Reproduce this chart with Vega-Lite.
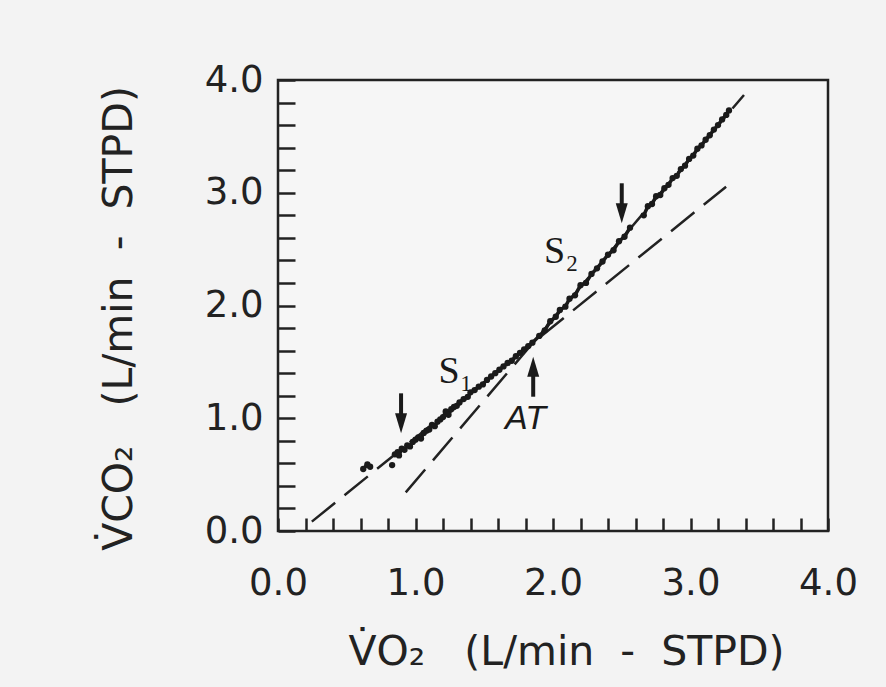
{
  "$schema": "https://vega.github.io/schema/vega-lite/v6.json",
  "width": 550,
  "height": 451,
  "autosize": {"type": "none"},
  "padding": {"left": 278, "top": 80, "right": 58, "bottom": 156},
  "background": "#f3f3f3",
  "config": {
    "view": {"stroke": "#222222", "strokeWidth": 2.5, "fill": "#f6f6f6"},
    "axis": {
      "domain": false, "grid": false, "tickColor": "#222222", "tickWidth": 2.5,
      "labelFont": "DejaVu Sans", "labelFontSize": 37, "labelColor": "#222222",
      "titleFont": "DejaVu Sans", "titleFontSize": 41, "titleFontWeight": "normal", "titleColor": "#222222",
      "labelFlush": false, "labelOverlap": false
    }
  },
  "resolve": {"scale": {"x": "shared", "y": "shared"}, "axis": {"x": "independent", "y": "independent"}},
  "layer": [
    {
      "data": {"values": [
        {"line": "S1", "vo2": 0.246, "vco2": 0.083},
        {"line": "S1", "vo2": 3.259, "vco2": 3.054},
        {"line": "S2", "vo2": 0.929, "vco2": 0.343},
        {"line": "S2", "vo2": 3.389, "vco2": 3.867}
      ]},
      "mark": {"type": "line", "strokeDash": [30, 12], "strokeWidth": 2.5, "color": "#222222"},
      "encoding": {
        "x": {"field": "vo2", "type": "quantitative", "scale": {"domain": [0, 4], "nice": false, "zero": false},
          "axis": {"orient": "bottom", "values": [0,0.2,0.4,0.6,0.8,1,1.2,1.4,1.6,1.8,2,2.2,2.4,2.6,2.8,3,3.2,3.4,3.6,3.8,4],
            "tickSize": -13, "labelPadding": 47,
            "labelExpr": "abs(datum.value - round(datum.value)) < 0.001 ? format(datum.value, '.1f') : ''",
            "title": "V\u0307O\u2082\u00a0\u00a0 (L/min\u00a0 - \u00a0STPD)", "titlePadding": 31, "titleX": 288,
            "encode": {"ticks": {"update": {"y2": {"signal": "abs(datum.value - round(datum.value)) < 0.001 ? -25 : -13"}}}}}},
        "y": {"field": "vco2", "type": "quantitative", "scale": {"domain": [0, 4], "nice": false, "zero": false},
          "axis": {"orient": "left", "values": [0,0.2,0.4,0.6,0.8,1,1.2,1.4,1.6,1.8,2,2.2,2.4,2.6,2.8,3,3.2,3.4,3.6,3.8,4],
            "tickSize": -17, "labelPadding": 32,
            "labelExpr": "abs(datum.value - round(datum.value)) < 0.001 ? format(datum.value, '.1f') : ''",
            "title": "V\u0307CO\u2082\u00a0\u00a0 (L/min\u00a0 - \u00a0STPD)", "titlePadding": 64, "titleY": 238,
            "encode": {"ticks": {"update": {"x2": {"signal": "abs(datum.value - round(datum.value)) < 0.001 ? 33 : 17"}}}}}},
        "detail": {"field": "line"}
      }
    },
    {
      "data": {"values": [
        {"seg": "a", "i": 1, "vo2": 0.62, "vco2": 0.55},
        {"seg": "a", "i": 2, "vo2": 0.65, "vco2": 0.59},
        {"seg": "a", "i": 3, "vo2": 0.67, "vco2": 0.57},
        {"seg": "b", "i": 4, "vo2": 0.83, "vco2": 0.585},
        {"seg": "c", "i": 5, "vo2": 0.85, "vco2": 0.68},
        {"seg": "c", "i": 6, "vo2": 0.87, "vco2": 0.70},
        {"seg": "c", "i": 7, "vo2": 0.88, "vco2": 0.67},
        {"seg": "c", "i": 8, "vo2": 0.90, "vco2": 0.73},
        {"seg": "c", "i": 9, "vo2": 0.92, "vco2": 0.72},
        {"seg": "c", "i": 10, "vo2": 0.94, "vco2": 0.76},
        {"seg": "c", "i": 11, "vo2": 0.96, "vco2": 0.75},
        {"seg": "c", "i": 12, "vo2": 0.98, "vco2": 0.79},
        {"seg": "c", "i": 13, "vo2": 1.00, "vco2": 0.81},
        {"seg": "c", "i": 14, "vo2": 1.02, "vco2": 0.83},
        {"seg": "c", "i": 15, "vo2": 1.04, "vco2": 0.82},
        {"seg": "c", "i": 16, "vo2": 1.06, "vco2": 0.87},
        {"seg": "c", "i": 17, "vo2": 1.08, "vco2": 0.89},
        {"seg": "c", "i": 18, "vo2": 1.10, "vco2": 0.90},
        {"seg": "c", "i": 19, "vo2": 1.12, "vco2": 0.94},
        {"seg": "c", "i": 20, "vo2": 1.14, "vco2": 0.93},
        {"seg": "c", "i": 21, "vo2": 1.16, "vco2": 0.97},
        {"seg": "c", "i": 22, "vo2": 1.18, "vco2": 0.99},
        {"seg": "c", "i": 23, "vo2": 1.20, "vco2": 1.01},
        {"seg": "c", "i": 24, "vo2": 1.22, "vco2": 1.06},
        {"seg": "c", "i": 25, "vo2": 1.24, "vco2": 1.03},
        {"seg": "c", "i": 26, "vo2": 1.26, "vco2": 1.08},
        {"seg": "c", "i": 27, "vo2": 1.28, "vco2": 1.10},
        {"seg": "c", "i": 28, "vo2": 1.30, "vco2": 1.11},
        {"seg": "c", "i": 29, "vo2": 1.32, "vco2": 1.14},
        {"seg": "c", "i": 30, "vo2": 1.35, "vco2": 1.17},
        {"seg": "c", "i": 31, "vo2": 1.38, "vco2": 1.19},
        {"seg": "c", "i": 32, "vo2": 1.40, "vco2": 1.23},
        {"seg": "c", "i": 33, "vo2": 1.43, "vco2": 1.25},
        {"seg": "c", "i": 34, "vo2": 1.46, "vco2": 1.28},
        {"seg": "c", "i": 35, "vo2": 1.49, "vco2": 1.30},
        {"seg": "c", "i": 36, "vo2": 1.52, "vco2": 1.34},
        {"seg": "c", "i": 37, "vo2": 1.55, "vco2": 1.37},
        {"seg": "c", "i": 38, "vo2": 1.58, "vco2": 1.40},
        {"seg": "c", "i": 39, "vo2": 1.61, "vco2": 1.43},
        {"seg": "c", "i": 40, "vo2": 1.64, "vco2": 1.46},
        {"seg": "c", "i": 41, "vo2": 1.67, "vco2": 1.49},
        {"seg": "c", "i": 42, "vo2": 1.70, "vco2": 1.51},
        {"seg": "c", "i": 43, "vo2": 1.73, "vco2": 1.55},
        {"seg": "c", "i": 44, "vo2": 1.76, "vco2": 1.58},
        {"seg": "c", "i": 45, "vo2": 1.79, "vco2": 1.61},
        {"seg": "c", "i": 46, "vo2": 1.82, "vco2": 1.64},
        {"seg": "c", "i": 47, "vo2": 1.85, "vco2": 1.67},
        {"seg": "c", "i": 48, "vo2": 1.90, "vco2": 1.73},
        {"seg": "c", "i": 49, "vo2": 1.94, "vco2": 1.78},
        {"seg": "c", "i": 50, "vo2": 1.98, "vco2": 1.86},
        {"seg": "c", "i": 51, "vo2": 2.02, "vco2": 1.90},
        {"seg": "c", "i": 52, "vo2": 2.05, "vco2": 1.96},
        {"seg": "c", "i": 53, "vo2": 2.09, "vco2": 1.99},
        {"seg": "c", "i": 54, "vo2": 2.12, "vco2": 2.06},
        {"seg": "c", "i": 55, "vo2": 2.16, "vco2": 2.09},
        {"seg": "c", "i": 56, "vo2": 2.20, "vco2": 2.18},
        {"seg": "c", "i": 57, "vo2": 2.24, "vco2": 2.20},
        {"seg": "c", "i": 58, "vo2": 2.28, "vco2": 2.28},
        {"seg": "c", "i": 59, "vo2": 2.32, "vco2": 2.33},
        {"seg": "c", "i": 60, "vo2": 2.36, "vco2": 2.39},
        {"seg": "c", "i": 61, "vo2": 2.40, "vco2": 2.45},
        {"seg": "c", "i": 62, "vo2": 2.44, "vco2": 2.49},
        {"seg": "c", "i": 63, "vo2": 2.48, "vco2": 2.57},
        {"seg": "c", "i": 64, "vo2": 2.52, "vco2": 2.61},
        {"seg": "c", "i": 65, "vo2": 2.56, "vco2": 2.69},
        {"seg": "d", "i": 66, "vo2": 2.66, "vco2": 2.80},
        {"seg": "d", "i": 67, "vo2": 2.69, "vco2": 2.88},
        {"seg": "d", "i": 68, "vo2": 2.72, "vco2": 2.90},
        {"seg": "d", "i": 69, "vo2": 2.75, "vco2": 2.97},
        {"seg": "d", "i": 70, "vo2": 2.78, "vco2": 2.98},
        {"seg": "d", "i": 71, "vo2": 2.81, "vco2": 3.04},
        {"seg": "d", "i": 72, "vo2": 2.84, "vco2": 3.07},
        {"seg": "d", "i": 73, "vo2": 2.87, "vco2": 3.13},
        {"seg": "d", "i": 74, "vo2": 2.90, "vco2": 3.15},
        {"seg": "d", "i": 75, "vo2": 2.93, "vco2": 3.21},
        {"seg": "d", "i": 76, "vo2": 2.96, "vco2": 3.24},
        {"seg": "d", "i": 77, "vo2": 2.99, "vco2": 3.30},
        {"seg": "d", "i": 78, "vo2": 3.02, "vco2": 3.33},
        {"seg": "d", "i": 79, "vo2": 3.05, "vco2": 3.39},
        {"seg": "d", "i": 80, "vo2": 3.08, "vco2": 3.42},
        {"seg": "d", "i": 81, "vo2": 3.11, "vco2": 3.47},
        {"seg": "d", "i": 82, "vo2": 3.14, "vco2": 3.51},
        {"seg": "d", "i": 83, "vo2": 3.17, "vco2": 3.56},
        {"seg": "d", "i": 84, "vo2": 3.20, "vco2": 3.60},
        {"seg": "d", "i": 85, "vo2": 3.23, "vco2": 3.65},
        {"seg": "d", "i": 86, "vo2": 3.26, "vco2": 3.69},
        {"seg": "d", "i": 87, "vo2": 3.28, "vco2": 3.73}
      ]},
      "layer": [
        {
          "mark": {"type": "line", "strokeWidth": 3.5, "color": "#1a1a1a", "strokeJoin": "round"},
          "encoding": {
            "x": {"field": "vo2", "type": "quantitative",
              "axis": {"orient": "top", "values": [0,0.2,0.4,0.6,0.8,1,1.2,1.4,1.6,1.8,2,2.2,2.4,2.6,2.8,3,3.2,3.4,3.6,3.8,4],
                "tickSize": -13, "labels": false, "title": null,
                "encode": {"ticks": {"update": {"y2": {"signal": "abs(datum.value - round(datum.value)) < 0.001 ? 23 : 13"}}}}}},
            "y": {"field": "vco2", "type": "quantitative",
              "axis": {"orient": "right", "values": [0,0.2,0.4,0.6,0.8,1,1.2,1.4,1.6,1.8,2,2.2,2.4,2.6,2.8,3,3.2,3.4,3.6,3.8,4],
                "tickSize": -17, "labels": false, "title": null,
                "encode": {"ticks": {"update": {"x2": {"signal": "abs(datum.value - round(datum.value)) < 0.001 ? -33 : -17"}}}}}},
            "detail": {"field": "seg"},
            "order": {"field": "i"}
          }
        },
        {
          "mark": {"type": "point", "filled": true, "size": 40, "color": "#1a1a1a", "opacity": 1},
          "encoding": {
            "x": {"field": "vo2", "type": "quantitative", "axis": null},
            "y": {"field": "vco2", "type": "quantitative", "axis": null}
          }
        }
      ]
    },
    {
      "data": {"values": [
        {"arrow": "left", "dir": "down", "vo2": 0.895, "from": 1.221, "to": 1.0, "tip": 0.866},
        {"arrow": "AT", "dir": "up", "vo2": 1.856, "from": 1.191, "to": 1.40, "tip": 1.546},
        {"arrow": "right", "dir": "down", "vo2": 2.50, "from": 3.084, "to": 2.86, "tip": 2.729}
      ]},
      "layer": [
        {
          "mark": {"type": "rule", "strokeWidth": 4, "color": "#1a1a1a"},
          "encoding": {
            "x": {"field": "vo2", "type": "quantitative", "axis": null},
            "y": {"field": "from", "type": "quantitative", "axis": null},
            "y2": {"field": "to"}
          }
        },
        {
          "mark": {"type": "point", "filled": true, "size": 1600, "color": "#1a1a1a", "opacity": 1, "strokeWidth": 0},
          "encoding": {
            "x": {"field": "vo2", "type": "quantitative", "axis": null},
            "y": {"field": "tip", "type": "quantitative", "axis": null},
            "shape": {"field": "dir", "type": "nominal", "legend": null,
              "scale": {"domain": ["down", "up"], "range": ["M-0.3,-1L0.3,-1L0,0Z", "M-0.3,1L0.3,1L0,0Z"]}}
          }
        }
      ]
    },
    {
      "data": {"values": [
        {"label": "S\u2081", "vo2": 1.168, "vco2": 1.413},
        {"label": "S\u2082", "vo2": 1.935, "vco2": 2.477}
      ]},
      "mark": {"type": "text", "font": "Liberation Serif", "fontSize": 38, "align": "left", "baseline": "middle", "color": "#1a1a1a"},
      "encoding": {
        "x": {"field": "vo2", "type": "quantitative", "axis": null},
        "y": {"field": "vco2", "type": "quantitative", "axis": null},
        "text": {"field": "label"}
      }
    },
    {
      "data": {"values": [
        {"label": "AT", "vo2": 1.80, "vco2": 0.99}
      ]},
      "mark": {"type": "text", "font": "Liberation Sans", "fontStyle": "italic", "fontSize": 34, "align": "center", "baseline": "middle", "color": "#1a1a1a"},
      "encoding": {
        "x": {"field": "vo2", "type": "quantitative", "axis": null},
        "y": {"field": "vco2", "type": "quantitative", "axis": null},
        "text": {"field": "label"}
      }
    }
  ]
}
